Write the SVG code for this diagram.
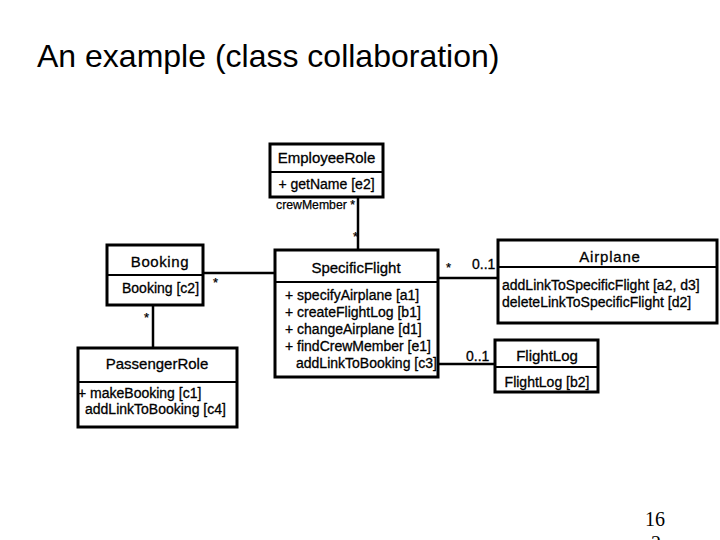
<svg xmlns="http://www.w3.org/2000/svg" width="720" height="540" viewBox="0 0 720 540">
<style>
text{font-family:"Liberation Sans",Arial,sans-serif;fill:#000}
.t{font-size:15px;stroke:#000;stroke-width:0.3}
.m{font-size:14px;stroke:#000;stroke-width:0.3}
.s{font-size:13px;stroke:#000;stroke-width:0.25}
.box{fill:#fff;stroke:#000;stroke-width:3}
.div{stroke:#000;stroke-width:2}
.ln{stroke:#000;stroke-width:2.5;fill:none}
.pg{font-family:"Liberation Serif","Times New Roman",serif;font-size:20px}
</style>
<rect width="720" height="540" fill="#fff"/>
<text x="37" y="67" style="font-size:32px">An example (class collaboration)</text>
<g id="connectors">
<line class="ln" x1="358" y1="197" x2="358" y2="250"/>
<line class="ln" x1="203" y1="273" x2="275" y2="273"/>
<line class="ln" x1="153" y1="305" x2="153" y2="348"/>
<line class="ln" x1="438" y1="278" x2="498" y2="278"/>
<line class="ln" x1="438" y1="364" x2="495" y2="364"/>
<text class="s" x="276" y="209" textLength="79" lengthAdjust="spacingAndGlyphs">crewMember *</text>
<text class="s" x="353" y="241">*</text>
<text class="s" x="213" y="287">*</text>
<text class="s" x="144" y="322">*</text>
<text class="s" x="446" y="272">*</text>
<text class="m" x="472" y="269">0..1</text>
<text class="m" x="466" y="361">0..1</text>
</g>
<g id="EmployeeRole">
<rect class="box" x="270" y="144" width="113" height="53"/>
<line class="div" x1="270" y1="172" x2="383" y2="172"/>
<text class="t" x="326.5" y="163" text-anchor="middle">EmployeeRole</text>
<text class="m" x="326.5" y="189" text-anchor="middle">+ getName [e2]</text>
</g>
<g id="Booking">
<rect class="box" x="107" y="245" width="96" height="60"/>
<line class="div" x1="107" y1="275" x2="203" y2="275"/>
<text class="t" x="160" y="267" text-anchor="middle" letter-spacing="0.6">Booking</text>
<text class="m" x="122" y="293">Booking [c2]</text>
</g>
<g id="PassengerRole">
<rect class="box" x="78" y="348" width="159" height="79"/>
<line class="div" x1="78" y1="382" x2="237" y2="382"/>
<text class="t" x="157" y="369" text-anchor="middle">PassengerRole</text>
<text class="m" x="78" y="398">+ makeBooking [c1]</text>
<text class="m" x="85" y="414">addLinkToBooking [c4]</text>
</g>
<g id="SpecificFlight">
<rect class="box" x="275" y="250" width="163" height="127"/>
<line class="div" x1="275" y1="282" x2="438" y2="282"/>
<text class="t" x="356" y="273" text-anchor="middle">SpecificFlight</text>
<text class="m" x="285" y="300">+ specifyAirplane [a1]</text>
<text class="m" x="285" y="317">+ createFlightLog [b1]</text>
<text class="m" x="285" y="334">+ changeAirplane [d1]</text>
<text class="m" x="285" y="351">+ findCrewMember [e1]</text>
<text class="m" x="296" y="368">addLinkToBooking [c3]</text>
</g>
<g id="Airplane">
<rect class="box" x="498" y="240" width="219" height="83"/>
<line class="div" x1="498" y1="267" x2="717" y2="267"/>
<text class="t" x="610" y="262" text-anchor="middle" letter-spacing="0.8">Airplane</text>
<text class="m" x="502" y="290">addLinkToSpecificFlight [a2, d3]</text>
<text class="m" x="502" y="307">deleteLinkToSpecificFlight [d2]</text>
</g>
<g id="FlightLog">
<rect class="box" x="495" y="340" width="103" height="52"/>
<line class="div" x1="495" y1="367" x2="598" y2="367"/>
<text class="t" x="547" y="361" text-anchor="middle">FlightLog</text>
<text class="m" x="547" y="387" text-anchor="middle">FlightLog [b2]</text>
</g>
<text class="pg" x="645" y="526">16</text>
<text class="pg" x="651" y="550">2</text>
</svg>
